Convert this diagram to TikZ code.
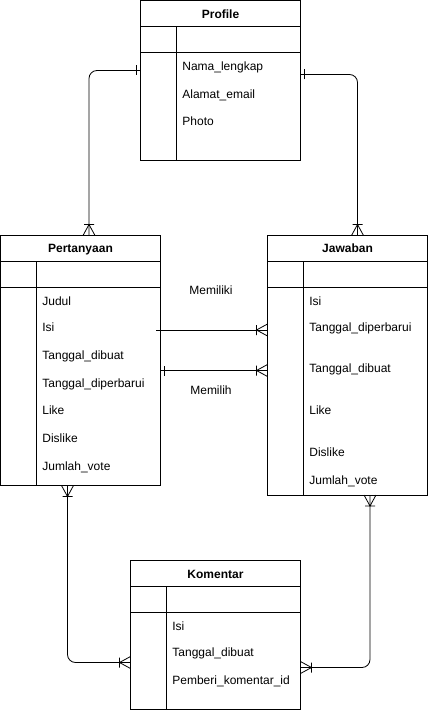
\documentclass[tikz,border=0pt]{standalone}
\usepackage{fontspec}
\setmainfont{Liberation Sans}

% crow's foot (one or many) and single bar ends
\pgfdeclarearrow{
  name = ermany,
  parameters = {},
  setup code = {
    \pgfarrowssettipend{0pt}
    \pgfarrowssetlineend{0pt}
    \pgfarrowssetbackend{-11pt}
    \pgfarrowssetvisualbackend{-11pt}
    \pgfarrowshullpoint{0pt}{6pt}
    \pgfarrowshullpoint{0pt}{-6pt}
    \pgfarrowshullpoint{-11pt}{6pt}
    \pgfarrowshullpoint{-11pt}{-6pt}
  },
  drawing code = {
    \pgfpathmoveto{\pgfqpoint{0pt}{6pt}}
    \pgfpathlineto{\pgfqpoint{-11pt}{0pt}}
    \pgfpathlineto{\pgfqpoint{0pt}{-6pt}}
    \pgfpathmoveto{\pgfqpoint{-11pt}{5pt}}
    \pgfpathlineto{\pgfqpoint{-11pt}{-5pt}}
    \pgfusepathqstroke
  }
}
\pgfdeclarearrow{
  name = erone,
  parameters = {},
  setup code = {
    \pgfarrowssettipend{0pt}
    \pgfarrowssetlineend{0pt}
    \pgfarrowssetbackend{-5pt}
    \pgfarrowssetvisualbackend{-5pt}
    \pgfarrowshullpoint{0pt}{5pt}
    \pgfarrowshullpoint{0pt}{-5pt}
    \pgfarrowshullpoint{-5pt}{5pt}
    \pgfarrowshullpoint{-5pt}{-5pt}
  },
  drawing code = {
    \pgfpathmoveto{\pgfqpoint{-4pt}{5pt}}
    \pgfpathlineto{\pgfqpoint{-4pt}{-5pt}}
    \pgfusepathqstroke
  }
}

\begin{document}
\begin{tikzpicture}[x=1pt, y=-1pt, line width=0.8pt,
    entbox/.style={draw, outer sep=0pt, inner sep=0pt, anchor=north west},
    enttitle/.style={anchor=base, inner sep=0pt, font=\fontsize{12}{14}\selectfont\bfseries},
    entfield/.style={anchor=base west, inner sep=0pt, font=\fontsize{12}{14}\selectfont},
    rellabel/.style={anchor=base, inner sep=0pt, font=\fontsize{12}{14}\selectfont},
    rel/.style={rounded corners=8pt}]
  \useasboundingbox (0,0) rectangle (428,714);

  % Profile
  \node[entbox, minimum width=160pt, minimum height=160pt] (prof) at (140.5,0.5) {};
  \draw ([yshift=-26pt]prof.north west) -- ([yshift=-26pt]prof.north east);
  \draw ([yshift=-52pt]prof.north west) -- ([yshift=-52pt]prof.north east);
  \draw ([xshift=36pt,yshift=-26pt]prof.north west) -- ([xshift=36pt]prof.south west);
  \node[enttitle] (prof-title) at ([yshift=-18pt]prof.north) {Profile};
  \node[entfield] (prof-nama) at (182,70.5) {Nama\_lengkap};
  \node[entfield] (prof-email) at (182,98.5) {Alamat\_email};
  \node[entfield] (prof-photo) at (182,126) {Photo};

  % Pertanyaan
  \node[entbox, minimum width=160pt, minimum height=250pt] (pert) at (0.5,235.5) {};
  \draw ([yshift=-26pt]pert.north west) -- ([yshift=-26pt]pert.north east);
  \draw ([yshift=-52pt]pert.north west) -- ([yshift=-52pt]pert.north east);
  \draw ([xshift=36pt,yshift=-26pt]pert.north west) -- ([xshift=36pt]pert.south west);
  \node[enttitle] (pert-title) at ([yshift=-17pt]pert.north) {Pertanyaan};
  \node[entfield] (pert-judul) at (42,305) {Judul};
  \node[entfield] (pert-isi) at (42,331) {Isi};
  \node[entfield] (pert-dibuat) at (42,359) {Tanggal\_dibuat};
  \node[entfield] (pert-diperbarui) at (42,387) {Tanggal\_diperbarui};
  \node[entfield] (pert-like) at (42,414.5) {Like};
  \node[entfield] (pert-dislike) at (42,442.5) {Dislike};
  \node[entfield] (pert-vote) at (42,470.5) {Jumlah\_vote};

  % Jawaban
  \node[entbox, minimum width=160pt, minimum height=259.5pt] (jaw) at (267.5,235.5) {};
  \draw ([yshift=-26pt]jaw.north west) -- ([yshift=-26pt]jaw.north east);
  \draw ([yshift=-52pt]jaw.north west) -- ([yshift=-52pt]jaw.north east);
  \draw ([xshift=36pt,yshift=-26pt]jaw.north west) -- ([xshift=36pt]jaw.south west);
  \node[enttitle] (jaw-title) at ([yshift=-17pt]jaw.north) {Jawaban};
  \node[entfield] (jaw-isi) at (309,305) {Isi};
  \node[entfield] (jaw-diperbarui) at (309,331) {Tanggal\_diperbarui};
  \node[entfield] (jaw-dibuat) at (309,372.5) {Tanggal\_dibuat};
  \node[entfield] (jaw-like) at (309,414.5) {Like};
  \node[entfield] (jaw-dislike) at (309,456.5) {Dislike};
  \node[entfield] (jaw-vote) at (309,484.5) {Jumlah\_vote};

  % Komentar
  \node[entbox, minimum width=170pt, minimum height=149pt] (kom) at (130.5,560.5) {};
  \draw ([yshift=-26pt]kom.north west) -- ([yshift=-26pt]kom.north east);
  \draw ([yshift=-52pt]kom.north west) -- ([yshift=-52pt]kom.north east);
  \draw ([xshift=36pt,yshift=-26pt]kom.north west) -- ([xshift=36pt]kom.south west);
  \node[enttitle] (kom-title) at ([yshift=-18pt]kom.north) {Komentar};
  \node[entfield] (kom-isi) at (172,630) {Isi};
  \node[entfield] (kom-dibuat) at (172,656.5) {Tanggal\_dibuat};
  \node[entfield] (kom-pemberi) at (172,684) {Pemberi\_komentar\_id};

  % relations
  \draw[erone-ermany, rel] ([yshift=-70pt]prof.north west) -| ([xshift=88.5pt]pert.north west);
  \draw[erone-ermany, rel] ([yshift=-74pt]prof.north east) -| ([xshift=90pt]jaw.north west);
  \draw[-ermany] ([xshift=-4.5pt,yshift=-94.5pt]pert.north east) -- ([yshift=-94.5pt]jaw.north west);
  \draw[erone-ermany] ([yshift=-135pt]pert.north east) -- ([yshift=-135pt]jaw.north west);
  \draw[ermany-ermany, rel] ([xshift=67pt]pert.south west) |- ([yshift=-102pt]kom.north west);
  \draw[ermany-ermany, rel] ([xshift=102.5pt]jaw.south west) |- ([yshift=-107pt]kom.north east);
  \node[rellabel] (memiliki) at (211,294.3) {Memiliki};
  \node[rellabel] (memilih) at (211,394.3) {Memilih};
\end{tikzpicture}
\end{document}
